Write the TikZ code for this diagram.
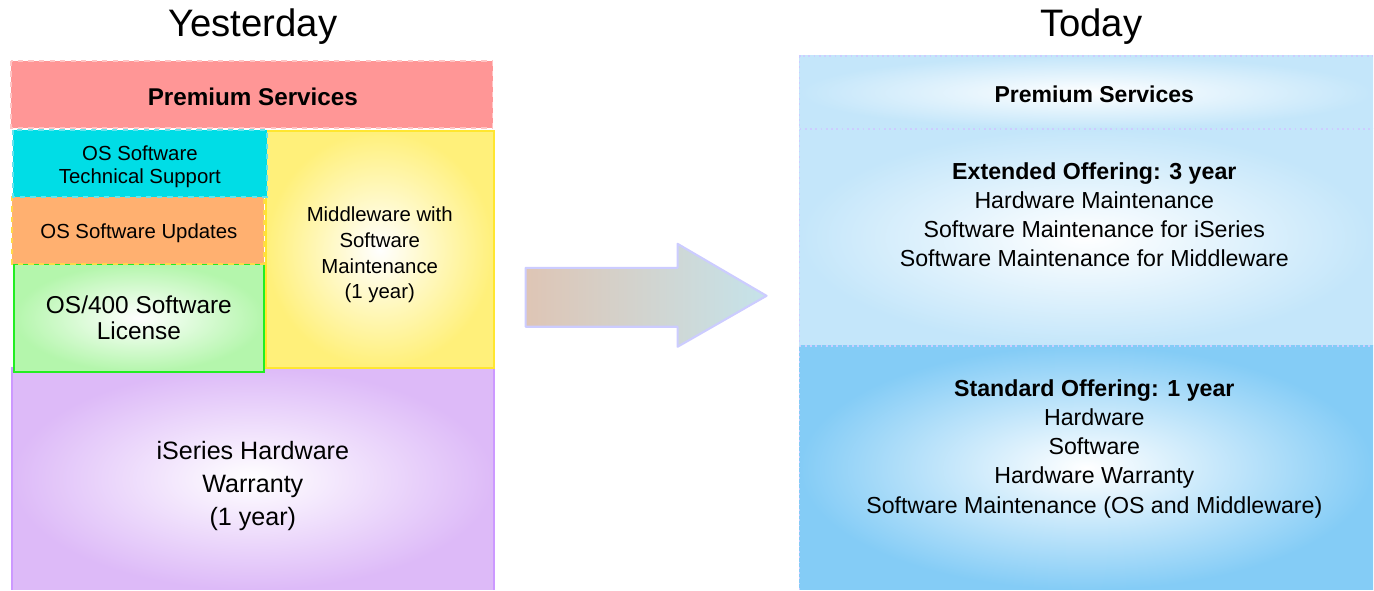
\documentclass[tikz,border=0pt]{standalone}
\usepackage{fontspec}
\setmainfont{Liberation Sans}
\definecolor{premPink}{HTML}{FF9696}
\definecolor{premEdge}{HTML}{FFC4C4}
\definecolor{osCyan}{HTML}{00DDE6}
\definecolor{cyanEdge}{HTML}{66E4EE}
\definecolor{updOrange}{HTML}{FFB070}
\definecolor{updEdge}{HTML}{FFD84A}
\definecolor{licGreen}{HTML}{B4F6AC}
\definecolor{licEdge}{HTML}{22EE22}
\definecolor{midYellow}{HTML}{FFF07A}
\definecolor{midEdge}{HTML}{FFE630}
\definecolor{hwPurple}{HTML}{DDBAF8}
\definecolor{hwEdge}{HTML}{CC99FF}
\definecolor{extBlue}{HTML}{C4E6FA}
\definecolor{stdBlue}{HTML}{84CCF6}
\definecolor{dotEdge}{HTML}{CCCCFF}
\definecolor{arrTan}{HTML}{DEC5B5}
\definecolor{arrCyan}{HTML}{C5E3EA}
\tikzset{
  txt/.style={align=center, inner sep=0pt, font=\fontsize{11.6}{13.1}\selectfont},
  ttl/.style={inner sep=0pt, font=\fontsize{21.8}{24}\selectfont},
  rtxt/.style={align=center, inner sep=0pt, font=\fontsize{13.2}{16.6}\selectfont}
}
\begin{document}
\begin{tikzpicture}[x=0.02cm,y=-0.02cm]

% --- canvas ---
\fill[white] (0,0) rectangle (1374,590);

% --- Titoli ---
\node[ttl] (yest) at (253,27) {Yesterday};
\node[ttl] (tod) at (1092,27) {Today};

% --- Colonna sinistra ---
\shade[inner color=white, outer color=hwPurple] (12,368) rectangle (494,590);
\draw[hwEdge, line width=1pt] (12,590) -- (12,368) -- (494,368) -- (494,590);
\shade[inner color=white, outer color=midYellow] (266,131) rectangle (494,368);
\draw[midEdge, line width=1.2pt] (266,131) rectangle (494,368);
\shade[inner color=white, outer color=licGreen] (14,264) rectangle (264,372);
\draw[licEdge, line width=1.2pt] (14,264) rectangle (264,372);
\filldraw[fill=updOrange, draw=updEdge, dashed, line width=0.8pt] (12,196) rectangle (264,264);
\filldraw[fill=osCyan, draw=cyanEdge, dashed, line width=0.8pt] (13,130) rectangle (267,197);
\filldraw[fill=premPink, draw=premEdge, dashed, line width=0.8pt] (11,61) rectangle (493,128);

\node[txt, font=\fontsize{13.8}{16}\selectfont\bfseries] (premL) at (253,97) {Premium Services};
\node[txt] (ostech) at (140,166.5) {OS Software\\Technical Support};
\node[txt] (osupd) at (139,233) {OS Software Updates};
\node[txt, font=\fontsize{13.9}{15.3}\selectfont] (oslic) at (139,318) {OS/400 Software\\License};
\node[txt, font=\fontsize{11.6}{14.7}\selectfont] (midw) at (380,255) {Middleware with\\Software\\Maintenance\\(1 year)};
\node[txt, font=\fontsize{14.3}{18.7}\selectfont] (hwwar) at (253,486) {iSeries Hardware\\Warranty\\(1 year)};

% --- Freccia ---
\shade[left color=arrTan, right color=arrCyan]
  (526,268) -- (678,268) -- (678,244) -- (767,296) -- (678,347) -- (678,327) -- (526,327) -- cycle;
\draw[dotEdge, line width=1.2pt, line join=round]
  (526,268) -- (678,268) -- (678,244) -- (767,296) -- (678,347) -- (678,327) -- (526,327) -- cycle;

% --- Colonna destra ---
\shade[inner color=white, outer color=extBlue] (800,56) rectangle (1374,129);
\shade[inner color=white, outer color=extBlue] (800,129) rectangle (1374,346);
\shade[inner color=white, outer color=stdBlue] (800,346) rectangle (1374,590);
\draw[dotEdge, dotted, line width=1pt] (800,590) -- (800,56) -- (1374,56);
\draw[dotEdge, dotted, line width=1pt] (800,129) -- (1374,129);
\draw[dotEdge, dotted, line width=1pt] (800,346) -- (1374,346);

\node[rtxt, font=\fontsize{13.1}{16}\selectfont\bfseries] (premR) at (1095,94) {Premium Services};
\node[rtxt] (ext) at (1095,215) {\textbf{Extended Offering: 3 year}\\Hardware Maintenance\\Software Maintenance for iSeries\\Software Maintenance for Middleware};
\node[rtxt] (std) at (1095,449) {\textbf{Standard Offering: 1 year}\\Hardware\\Software\\Hardware Warranty\\Software Maintenance (OS and Middleware)};

\end{tikzpicture}
\end{document}
